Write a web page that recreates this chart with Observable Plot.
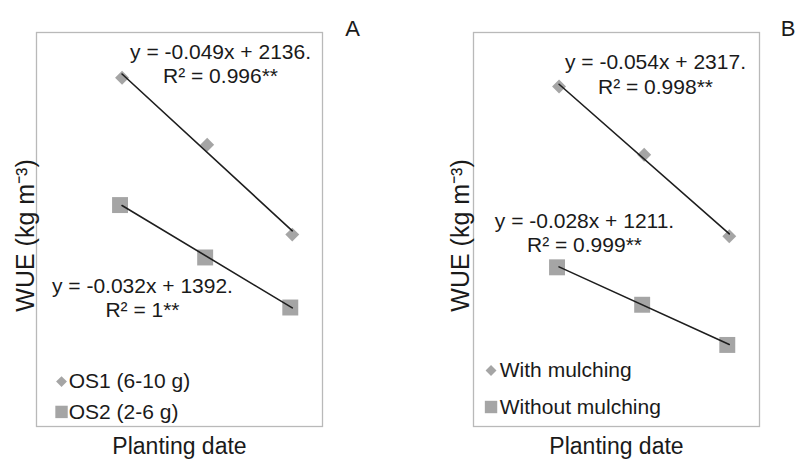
<!DOCTYPE html>
<html><head><meta charset="utf-8">
<script src="https://cdn.jsdelivr.net/npm/d3@7"></script>
<script src="https://cdn.jsdelivr.net/npm/@observablehq/plot@0.6"></script>
<style>
html,body{margin:0;padding:0;background:#fff;}
#wrap{display:flex;width:799px;height:459px;overflow:hidden;}
#wrap svg{font-family:"Liberation Sans",Arial,sans-serif;display:block;}
</style></head><body><div id="wrap"></div>
<script>
// Planting dates (order only, no tick labels in the original)
const plantingDates = [1, 2, 3];

// Panel A
const seriesA = ["OS1 (6-10 g)", "OS2 (2-6 g)"];
const wueOS1 = [8.85, 7.15, 4.87];
const wueOS2 = [5.62, 4.29, 3.02];
const equationsA = ["y = -0.049x + 2136.\nR\u00B2 = 0.996**", "y = -0.032x + 1392.\nR\u00B2 = 1**"];

// Panel B
const seriesB = ["With mulching", "Without mulching"];
const wueWithMulching = [8.63, 6.90, 4.83];
const wueWithoutMulching = [4.04, 3.09, 2.07];
const equationsB = ["y = -0.054x + 2317.\nR\u00B2 = 0.998**", "y = -0.028x + 1211.\nR\u00B2 = 0.999**"];

const panelLabels = ["A", "B"];
const xTitle = "Planting date";
const yTitle = "WUE (kg m\u207B\u00B3)";

const GREY = "#a5a5a5";

function toRows(name, values) {
  return plantingDates.map((d, i) => ({series: name, date: d, wue: values[i]}));
}

function panel(cfg) {
  const diamonds = toRows(cfg.series[0], cfg.values[0]);
  const squares = toRows(cfg.series[1], cfg.values[1]);
  const all = diamonds.concat(squares);
  return Plot.plot({
    width: cfg.width,
    height: 459,
    marginLeft: cfg.marginLeft,
    marginRight: cfg.marginRight,
    marginTop: 32,
    marginBottom: 33,
    x: {domain: [-0.005, 3.355], axis: null},
    y: {domain: [0, 10], axis: null},
    style: {fontFamily: '"Liberation Sans", Arial, sans-serif', color: "#1a1a1a", background: "#fff"},
    marks: [
      Plot.frame({stroke: "#b9b9b9", strokeWidth: 1.3}),
      Plot.dot(diamonds, {x: "date", y: "wue", symbol: "diamond2", r: 6.3, fill: GREY}),
      Plot.dot(squares, {x: "date", y: "wue", symbol: "square", r: 9, fill: GREY, dx: -2}),
      Plot.linearRegressionY(all, {x: "date", y: "wue", z: "series", stroke: "#1e1e1e", strokeWidth: 1.6, ci: 0}),
      Plot.text(cfg.equations, {x: cfg.eqX, y: cfg.eqY, lineAnchor: "bottom", lineHeight: 1.167, fontSize: 21, textAnchor: "middle"}),
      // legend
      Plot.dot([cfg.series[0]], {x: [cfg.legMarkX], y: [cfg.legY[0]], symbol: "diamond2", r: 4.9, fill: GREY}),
      Plot.dot([cfg.series[1]], {x: [cfg.legMarkX], y: [cfg.legY[1]], symbol: "square", r: 7, fill: GREY}),
      Plot.text(cfg.series, {x: [cfg.legTextX, cfg.legTextX], y: cfg.legY, textAnchor: "start", lineAnchor: "middle", fontSize: 21}),
      // axis titles
      Plot.text([xTitle], {frameAnchor: "bottom", lineAnchor: "bottom", dy: 27, fontSize: 23, textAnchor: "middle"}),
      Plot.text([yTitle], {frameAnchor: "left", rotate: -90, lineAnchor: "bottom", textAnchor: "middle", dx: cfg.yTitleDx, dy: 6, fontSize: 25}),
      // panel letter
      Plot.text([cfg.letter], {frameAnchor: "top-right", lineAnchor: "bottom", textAnchor: "middle", dx: cfg.letterDx, dy: 3, fontSize: 22})
    ]
  });
}

const wrap = document.getElementById("wrap");
wrap.append(panel({
  width: 400, marginLeft: 36, marginRight: 78,
  series: seriesA, values: [wueOS1, wueOS2],
  equations: equationsA, eqX: [2.157, 1.24], eqY: [8.71, 2.77],
  legMarkX: 0.289, legTextX: 0.374, legY: [1.14, 0.37],
  yTitleDx: -3, letter: panelLabels[0], letterDx: 30
}));
wrap.append(panel({
  width: 399, marginLeft: 73, marginRight: 40,
  series: seriesB, values: [wueWithMulching, wueWithoutMulching],
  equations: equationsB, eqX: [2.133, 1.299], eqY: [8.44, 4.42],
  legMarkX: 0.201, legTextX: 0.304, legY: [1.42, 0.495],
  yTitleDx: -5, letter: panelLabels[1], letterDx: 28.5
}));
</script>
</body></html>
